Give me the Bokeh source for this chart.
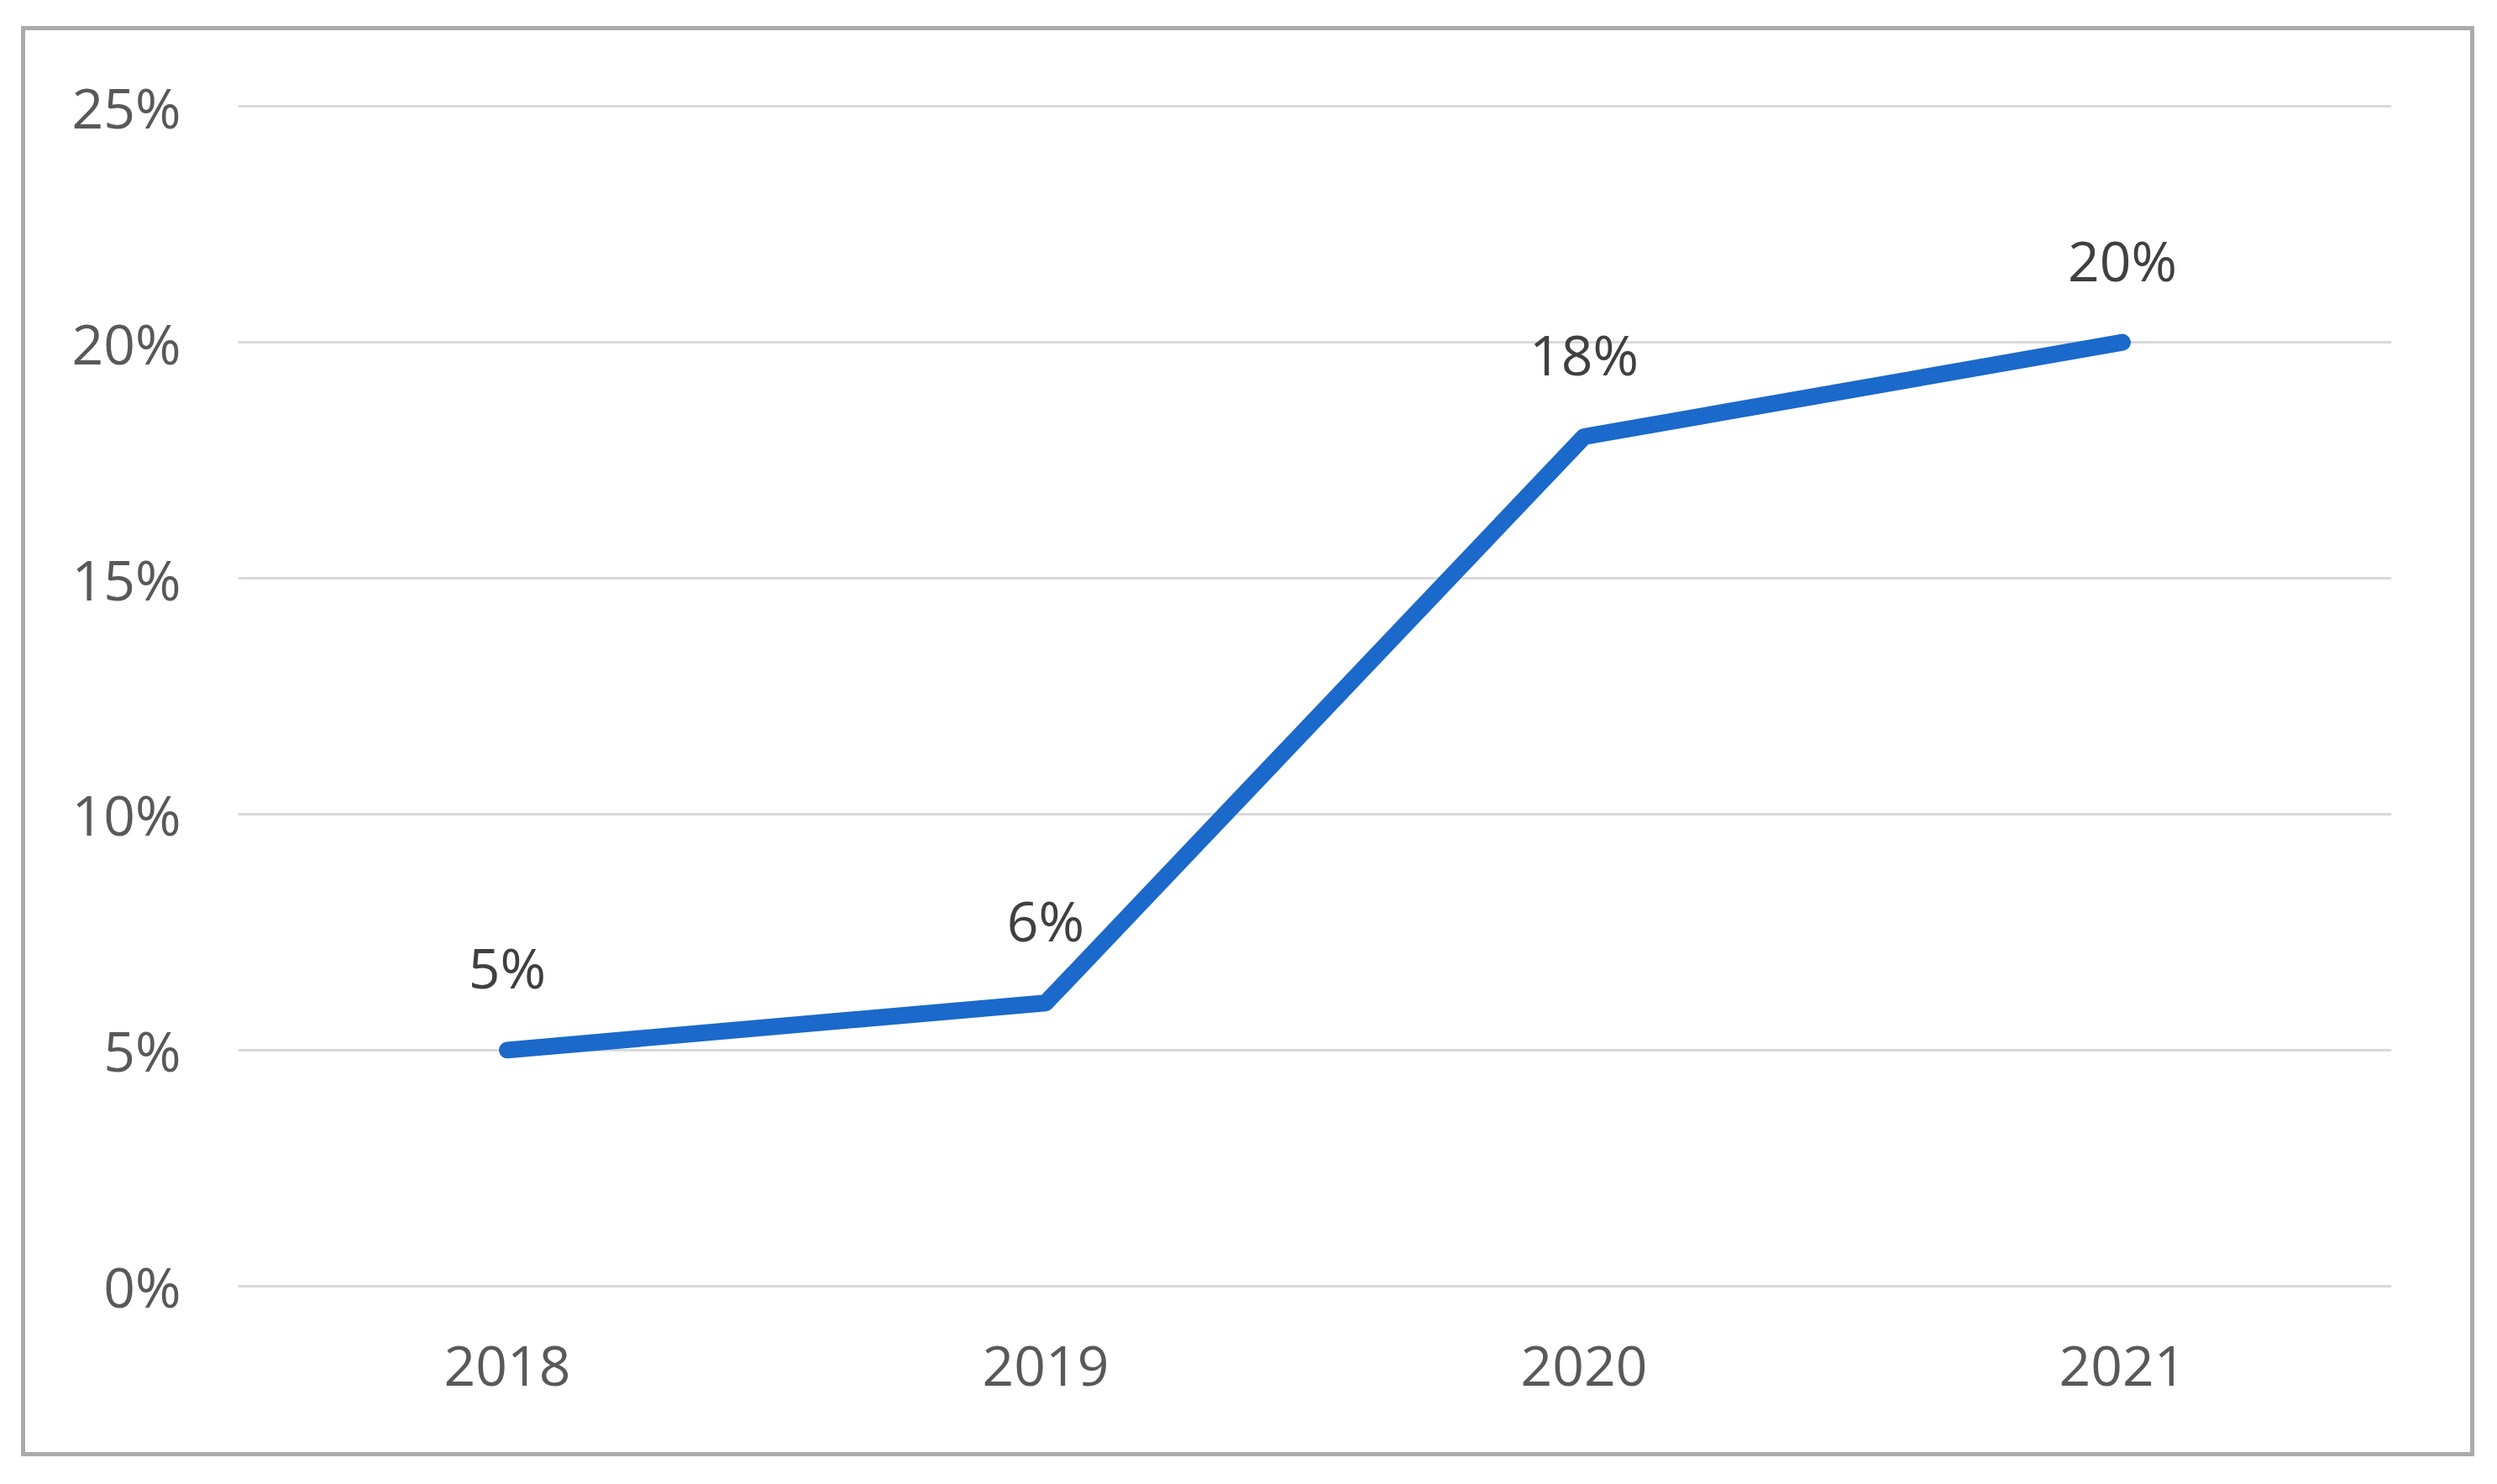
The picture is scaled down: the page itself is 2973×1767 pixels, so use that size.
from bokeh.plotting import figure
from bokeh.models import (ColumnDataSource, FactorRange, Range1d, NumeralTickFormatter,
                          FixedTicker, LabelSet)
from bokeh.core.properties import value
from bokeh.embed import file_html
from bokeh.resources import INLINE

years = ["2018", "2019", "2020", "2021"]
values = [0.05, 0.06, 0.18, 0.20]
labels = ["5%", "6%", "18%", "20%"]
y_ticks = [0, 0.05, 0.10, 0.15, 0.20, 0.25]

src = ColumnDataSource(dict(x=years, y=values, lab=labels))

FONT = "Open Sans"
FS = "66px"

p = figure(width=2921, height=1703, output_backend="svg", toolbar_location=None,
           x_range=FactorRange(*years, range_padding=0),
           y_range=Range1d(-0.0036, 0.2536),
           min_border_left=253, min_border_right=104,
           min_border_top=70, min_border_bottom=188,
           styles={"margin-left": "25px", "margin-top": "31px",
                   "border": "5px solid #ABABAB"})
p.outline_line_color = None
p.background_fill_color = "white"
p.border_fill_color = "white"

p.line("x", "y", source=src, line_color="#1B69CA", line_width=20,
       line_cap="round", line_join="round")

p.add_layout(LabelSet(x="x", y="y", text="lab", source=src, y_offset=99,
                      text_align="center", text_baseline="middle",
                      text_font=value(FONT), text_font_size=value(FS),
                      text_color="#404040"))

p.yaxis.ticker = FixedTicker(ticks=y_ticks)
p.yaxis.formatter = NumeralTickFormatter(format="0%")
for ax in (p.xaxis[0], p.yaxis[0]):
    ax.axis_line_color = None
    ax.major_tick_line_color = None
    ax.minor_tick_line_color = None
    ax.major_tick_out = 0
    ax.major_tick_in = 0
    ax.major_label_text_font = FONT
    ax.major_label_text_font_size = FS
    ax.major_label_text_color = "#595959"
p.yaxis.major_label_standoff = 68
p.xaxis.major_label_standoff = 51

p.xgrid.grid_line_color = None
p.ygrid.ticker = FixedTicker(ticks=y_ticks)
p.ygrid.grid_line_color = "#D9D9D9"
p.ygrid.grid_line_width = 3

open("out.html", "w").write(file_html(p, INLINE))
